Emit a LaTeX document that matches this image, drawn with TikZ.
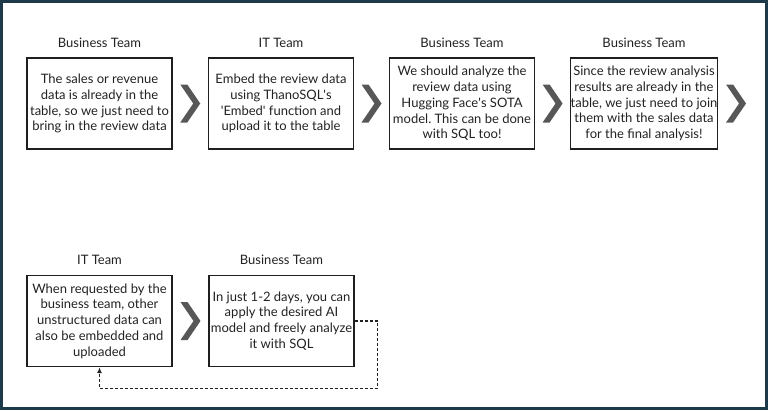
\documentclass[tikz,border=0pt]{standalone}
\usepackage{fontspec}
\setmainfont{Lato}
\frenchspacing
\usetikzlibrary{positioning,calc,arrows.meta}

\definecolor{framecol}{HTML}{1E3A4A}
\definecolor{chevcol}{HTML}{575757}
\definecolor{txtcol}{HTML}{222222}

\tikzset{
  stepbox/.style={draw=txtcol!90!black, line width=1.4pt, minimum width=145pt,
    minimum height=91pt, align=center, inner sep=0pt,
    font=\fontsize{13}{15.8}\selectfont, text=txtcol},
  team/.style={font=\fontsize{13}{15.8}\selectfont, text=txtcol},
  loopline/.style={draw=txtcol, line width=1.4pt, dash pattern=on 3pt off 2pt,
    -{Latex[length=6pt,width=5pt]}}
}

\newcommand{\chevron}[1]{%
  \fill[chevcol] ($(#1)+(-10,-19)$) -- ++(7,0) -- ($(#1)+(10,0)$)
    -- ($(#1)+(-3,19)$) -- ++(-7,0) -- ($(#1)+(3,0)$) -- cycle;}
\newcommand{\q}{\textquotesingle}

\begin{document}
\begin{tikzpicture}[x=1pt,y=-1pt]
            \useasboundingbox (0,0) rectangle (768,410);
            \draw[framecol, line width=2.6pt] (1.3,1.3) rectangle (766.7,408.7);

            % first row
            \node[stepbox] (b1) at (99.5,103.5){The sales or revenue\\data is already in the\\table, so we just need to\\bring in the review data};
            \node[stepbox] (b2) at (281,103.5){Embed the review data\\using ThanoSQL\q s\\\q Embed\q{} function and\\upload it to the table};
            \node[stepbox] (b3) at (462,103.5){We should analyze the\\review data using\\Hugging Face\q s SOTA\\model. This can be done\\with SQL too!};
            \node[stepbox] (b4) at (644,103.5){Since the review analysis\\results are already in the\\table, we just need to join\\them with the sales data\\for the final analysis!};

            \node[team] (t1) at (99.5,43){Business Team};
            \node[team] (t2) at (281,43){IT Team};
            \node[team] (t3) at (462,43){Business Team};
            \node[team] (t4) at (644,43){Business Team};

            % second row
            \node[stepbox] (b5) at (99.5,321){When requested by the\\business team, other\\unstructured data can\\also be embedded and\\uploaded};
            \node[stepbox] (b6) at (281.5,321){In just 1-2 days, you can\\apply the desired AI\\model and freely analyze\\it with SQL};

            \node[team] (t5) at (99.5,260){IT Team};
            \node[team] (t6) at (281.5,260){Business Team};

            % chevrons
            \chevron{$(b1.east)!0.5!(b2.west)$}
            \chevron{$(b2.east)!0.5!(b3.west)$}
            \chevron{$(b3.east)!0.5!(b4.west)$}
            \chevron{$(b4.east)+(18,0)$}
            \chevron{$(b5.east)!0.5!(b6.west)$}

            % loop back
            \coordinate (loopc) at (377.7,388.3);
            \draw[loopline] (b6.east) -| (loopc) -| (b5.south);
        \end{tikzpicture}
\end{document}
